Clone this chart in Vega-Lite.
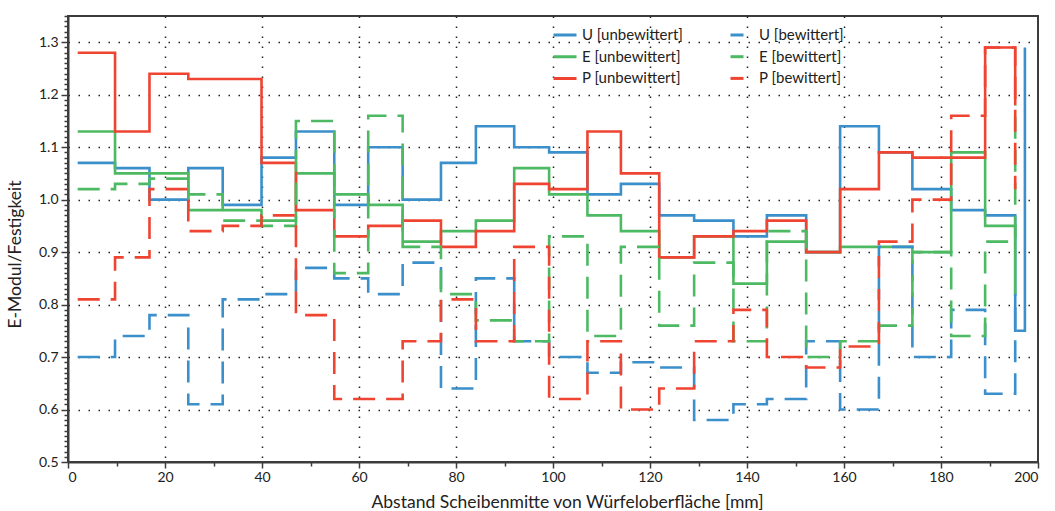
{
  "$schema": "https://vega.github.io/schema/vega-lite/v6.json",
  "width": 970,
  "height": 446,
  "autosize": "none",
  "padding": {"left": 68, "top": 16, "right": 17, "bottom": 49},
  "background": "white",
  "config": {"view": {"stroke": "#3c3c3c", "strokeWidth": 2}, "font": "Lato"},
  "data": {"values": [
    {"s":"U [unbewittert]","x":2.0,"y":1.07},{"s":"U [unbewittert]","x":9.7,"y":1.06},{"s":"U [unbewittert]","x":16.8,"y":1.00},{"s":"U [unbewittert]","x":24.8,"y":1.06},{"s":"U [unbewittert]","x":31.9,"y":0.99},{"s":"U [unbewittert]","x":39.9,"y":1.08},{"s":"U [unbewittert]","x":47.0,"y":1.13},{"s":"U [unbewittert]","x":54.9,"y":0.99},{"s":"U [unbewittert]","x":61.9,"y":1.10},{"s":"U [unbewittert]","x":69.0,"y":1.00},{"s":"U [unbewittert]","x":76.9,"y":1.07},{"s":"U [unbewittert]","x":84.1,"y":1.14},{"s":"U [unbewittert]","x":92.0,"y":1.10},{"s":"U [unbewittert]","x":99.2,"y":1.09},{"s":"U [unbewittert]","x":107.1,"y":1.01},{"s":"U [unbewittert]","x":114.0,"y":1.03},{"s":"U [unbewittert]","x":121.9,"y":0.97},{"s":"U [unbewittert]","x":129.1,"y":0.96},{"s":"U [unbewittert]","x":137.2,"y":0.93},{"s":"U [unbewittert]","x":144.1,"y":0.97},{"s":"U [unbewittert]","x":152.2,"y":0.90},{"s":"U [unbewittert]","x":159.2,"y":1.14},{"s":"U [unbewittert]","x":167.2,"y":1.09},{"s":"U [unbewittert]","x":174.1,"y":1.02},{"s":"U [unbewittert]","x":182.1,"y":0.98},{"s":"U [unbewittert]","x":189.1,"y":0.97},{"s":"U [unbewittert]","x":195.3,"y":0.75},{"s":"U [unbewittert]","x":197.3,"y":1.29},
    {"s":"E [unbewittert]","x":2.0,"y":1.13},{"s":"E [unbewittert]","x":9.7,"y":1.05},{"s":"E [unbewittert]","x":16.8,"y":1.05},{"s":"E [unbewittert]","x":24.8,"y":0.98},{"s":"E [unbewittert]","x":31.9,"y":0.98},{"s":"E [unbewittert]","x":39.9,"y":0.96},{"s":"E [unbewittert]","x":47.0,"y":1.05},{"s":"E [unbewittert]","x":54.9,"y":1.01},{"s":"E [unbewittert]","x":61.9,"y":0.99},{"s":"E [unbewittert]","x":69.0,"y":0.92},{"s":"E [unbewittert]","x":76.9,"y":0.94},{"s":"E [unbewittert]","x":84.1,"y":0.96},{"s":"E [unbewittert]","x":92.0,"y":1.06},{"s":"E [unbewittert]","x":99.2,"y":1.01},{"s":"E [unbewittert]","x":107.1,"y":0.97},{"s":"E [unbewittert]","x":114.0,"y":0.94},{"s":"E [unbewittert]","x":121.9,"y":0.89},{"s":"E [unbewittert]","x":129.1,"y":0.93},{"s":"E [unbewittert]","x":137.2,"y":0.84},{"s":"E [unbewittert]","x":144.1,"y":0.92},{"s":"E [unbewittert]","x":152.2,"y":0.90},{"s":"E [unbewittert]","x":159.2,"y":0.91},{"s":"E [unbewittert]","x":167.2,"y":0.91},{"s":"E [unbewittert]","x":174.1,"y":0.90},{"s":"E [unbewittert]","x":182.1,"y":1.09},{"s":"E [unbewittert]","x":189.1,"y":0.95},{"s":"E [unbewittert]","x":195.3,"y":0.82},
    {"s":"P [unbewittert]","x":2.0,"y":1.28},{"s":"P [unbewittert]","x":9.7,"y":1.13},{"s":"P [unbewittert]","x":16.8,"y":1.24},{"s":"P [unbewittert]","x":24.8,"y":1.23},{"s":"P [unbewittert]","x":31.9,"y":1.23},{"s":"P [unbewittert]","x":39.9,"y":1.07},{"s":"P [unbewittert]","x":47.0,"y":0.98},{"s":"P [unbewittert]","x":54.9,"y":0.93},{"s":"P [unbewittert]","x":61.9,"y":0.95},{"s":"P [unbewittert]","x":69.0,"y":0.96},{"s":"P [unbewittert]","x":76.9,"y":0.91},{"s":"P [unbewittert]","x":84.1,"y":0.94},{"s":"P [unbewittert]","x":92.0,"y":1.03},{"s":"P [unbewittert]","x":99.2,"y":1.02},{"s":"P [unbewittert]","x":107.1,"y":1.13},{"s":"P [unbewittert]","x":114.0,"y":1.05},{"s":"P [unbewittert]","x":121.9,"y":0.89},{"s":"P [unbewittert]","x":129.1,"y":0.93},{"s":"P [unbewittert]","x":137.2,"y":0.94},{"s":"P [unbewittert]","x":144.1,"y":0.96},{"s":"P [unbewittert]","x":152.2,"y":0.90},{"s":"P [unbewittert]","x":159.2,"y":1.02},{"s":"P [unbewittert]","x":167.2,"y":1.09},{"s":"P [unbewittert]","x":174.1,"y":1.08},{"s":"P [unbewittert]","x":182.1,"y":1.08},{"s":"P [unbewittert]","x":189.1,"y":1.29},{"s":"P [unbewittert]","x":195.3,"y":1.18},
    {"s":"U [bewittert]","x":2.0,"y":0.70},{"s":"U [bewittert]","x":9.7,"y":0.74},{"s":"U [bewittert]","x":16.8,"y":0.78},{"s":"U [bewittert]","x":24.8,"y":0.61},{"s":"U [bewittert]","x":31.9,"y":0.81},{"s":"U [bewittert]","x":39.9,"y":0.82},{"s":"U [bewittert]","x":47.0,"y":0.87},{"s":"U [bewittert]","x":54.9,"y":0.85},{"s":"U [bewittert]","x":61.9,"y":0.82},{"s":"U [bewittert]","x":69.0,"y":0.88},{"s":"U [bewittert]","x":76.9,"y":0.64},{"s":"U [bewittert]","x":84.1,"y":0.85},{"s":"U [bewittert]","x":92.0,"y":0.73},{"s":"U [bewittert]","x":99.2,"y":0.70},{"s":"U [bewittert]","x":107.1,"y":0.67},{"s":"U [bewittert]","x":114.0,"y":0.69},{"s":"U [bewittert]","x":121.9,"y":0.68},{"s":"U [bewittert]","x":129.1,"y":0.58},{"s":"U [bewittert]","x":137.2,"y":0.61},{"s":"U [bewittert]","x":144.1,"y":0.62},{"s":"U [bewittert]","x":152.2,"y":0.73},{"s":"U [bewittert]","x":159.2,"y":0.60},{"s":"U [bewittert]","x":167.2,"y":0.91},{"s":"U [bewittert]","x":174.1,"y":0.70},{"s":"U [bewittert]","x":182.1,"y":0.79},{"s":"U [bewittert]","x":189.1,"y":0.63},{"s":"U [bewittert]","x":195.3,"y":0.82},
    {"s":"E [bewittert]","x":2.0,"y":1.02},{"s":"E [bewittert]","x":9.7,"y":1.03},{"s":"E [bewittert]","x":16.8,"y":1.04},{"s":"E [bewittert]","x":24.8,"y":1.01},{"s":"E [bewittert]","x":31.9,"y":0.96},{"s":"E [bewittert]","x":39.9,"y":0.95},{"s":"E [bewittert]","x":47.0,"y":1.15},{"s":"E [bewittert]","x":54.9,"y":0.86},{"s":"E [bewittert]","x":61.9,"y":1.16},{"s":"E [bewittert]","x":69.0,"y":0.91},{"s":"E [bewittert]","x":76.9,"y":0.82},{"s":"E [bewittert]","x":84.1,"y":0.77},{"s":"E [bewittert]","x":92.0,"y":0.73},{"s":"E [bewittert]","x":99.2,"y":0.93},{"s":"E [bewittert]","x":107.1,"y":0.74},{"s":"E [bewittert]","x":114.0,"y":0.91},{"s":"E [bewittert]","x":121.9,"y":0.76},{"s":"E [bewittert]","x":129.1,"y":0.88},{"s":"E [bewittert]","x":137.2,"y":0.73},{"s":"E [bewittert]","x":144.1,"y":0.94},{"s":"E [bewittert]","x":152.2,"y":0.70},{"s":"E [bewittert]","x":159.2,"y":0.73},{"s":"E [bewittert]","x":167.2,"y":0.76},{"s":"E [bewittert]","x":174.1,"y":0.90},{"s":"E [bewittert]","x":182.1,"y":0.74},{"s":"E [bewittert]","x":189.1,"y":0.92},{"s":"E [bewittert]","x":195.3,"y":1.18},
    {"s":"P [bewittert]","x":2.0,"y":0.81},{"s":"P [bewittert]","x":9.7,"y":0.89},{"s":"P [bewittert]","x":16.8,"y":1.02},{"s":"P [bewittert]","x":24.8,"y":0.94},{"s":"P [bewittert]","x":31.9,"y":0.95},{"s":"P [bewittert]","x":39.9,"y":0.97},{"s":"P [bewittert]","x":47.0,"y":0.78},{"s":"P [bewittert]","x":54.9,"y":0.62},{"s":"P [bewittert]","x":61.9,"y":0.62},{"s":"P [bewittert]","x":69.0,"y":0.73},{"s":"P [bewittert]","x":76.9,"y":0.81},{"s":"P [bewittert]","x":84.1,"y":0.73},{"s":"P [bewittert]","x":92.0,"y":0.91},{"s":"P [bewittert]","x":99.2,"y":0.62},{"s":"P [bewittert]","x":107.1,"y":0.73},{"s":"P [bewittert]","x":114.0,"y":0.60},{"s":"P [bewittert]","x":121.9,"y":0.64},{"s":"P [bewittert]","x":129.1,"y":0.73},{"s":"P [bewittert]","x":137.2,"y":0.79},{"s":"P [bewittert]","x":144.1,"y":0.70},{"s":"P [bewittert]","x":152.2,"y":0.68},{"s":"P [bewittert]","x":159.2,"y":0.72},{"s":"P [bewittert]","x":167.2,"y":0.92},{"s":"P [bewittert]","x":174.1,"y":1.00},{"s":"P [bewittert]","x":182.1,"y":1.16},{"s":"P [bewittert]","x":189.1,"y":1.29},{"s":"P [bewittert]","x":195.3,"y":1.02}
  ]},
  "mark": {"type": "line", "interpolate": "step-after", "strokeWidth": 2.6},
  "encoding": {
    "x": {
      "field": "x", "type": "quantitative",
      "scale": {"domain": [0, 200], "nice": false, "zero": false},
      "axis": {
        "values": [0,10,20,30,40,50,60,70,80,90,100,110,120,130,140,150,160,170,180,190,200],
        "labelExpr": "datum.value % 20 === 0 ? datum.label : ''",
        "labelOverlap": false,
        "tickSize": {"condition": {"test": "datum.value % 20 === 0", "value": 6}, "value": 4},
        "tickColor": "#3c3c3c", "tickWidth": 1.5,
        "grid": true,
        "gridOpacity": {"condition": {"test": "datum.value % 20 === 0 && datum.value > 0 && datum.value < 200", "value": 1}, "value": 0},
        "gridDash": [1.5, 8.5], "gridColor": "#222222", "gridWidth": 1.5,
        "domainColor": "#3c3c3c", "domainWidth": 2,
        "labelFont": "Lato", "labelFontSize": 14, "labelColor": "#222222", "labelPadding": 2,
        "title": "Abstand Scheibenmitte von Würfeloberfläche [mm]",
        "titleFont": "Lato", "titleFontSize": 17.5, "titleFontWeight": "normal", "titleColor": "#222222",
        "titleX": 499, "titleY": 45, "titleAlign": "center", "titleBaseline": "alphabetic"
      }
    },
    "y": {
      "field": "y", "type": "quantitative",
      "scale": {"domain": [0.5, 1.35], "nice": false, "zero": false},
      "axis": {
        "values": [0.5,0.51,0.52,0.53,0.54,0.55,0.56,0.57,0.58,0.59,0.6,0.61,0.62,0.63,0.64,0.65,0.66,0.67,0.68,0.69,0.7,0.71,0.72,0.73,0.74,0.75,0.76,0.77,0.78,0.79,0.8,0.81,0.82,0.83,0.84,0.85,0.86,0.87,0.88,0.89,0.9,0.91,0.92,0.93,0.94,0.95,0.96,0.97,0.98,0.99,1.0,1.01,1.02,1.03,1.04,1.05,1.06,1.07,1.08,1.09,1.1,1.11,1.12,1.13,1.14,1.15,1.16,1.17,1.18,1.19,1.2,1.21,1.22,1.23,1.24,1.25,1.26,1.27,1.28,1.29,1.3,1.31,1.32,1.33,1.34,1.35],
        "labelExpr": "abs(datum.value*10 - round(datum.value*10)) < 0.001 && datum.value < 1.31 ? format(datum.value, '.1f') : ''",
        "labelOverlap": false,
        "tickSize": {"condition": {"test": "abs(datum.value*10 - round(datum.value*10)) < 0.001", "value": 7}, "value": 4},
        "tickColor": "#3c3c3c", "tickWidth": 1.5,
        "grid": true,
        "gridOpacity": {"condition": {"test": "abs(datum.value*10 - round(datum.value*10)) < 0.001 && datum.value > 0.55 && datum.value < 1.31", "value": 1}, "value": 0},
        "gridDash": [1.5, 8.5], "gridColor": "#222222", "gridWidth": 1.5,
        "domainColor": "#3c3c3c", "domainWidth": 2,
        "labelFont": "Lato", "labelFontSize": 14, "labelColor": "#222222", "labelPadding": 3,
        "title": "E-Modul/Festigkeit",
        "titleFont": "Lato", "titleFontSize": 17.5, "titleFontWeight": "normal", "titleColor": "#222222",
        "titleX": -53, "titleY": 238, "titleAngle": 270, "titleAlign": "center", "titleBaseline": "middle"
      }
    },
    "color": {
      "field": "s", "type": "nominal",
      "scale": {
        "domain": ["U [unbewittert]", "E [unbewittert]", "P [unbewittert]", "U [bewittert]", "E [bewittert]", "P [bewittert]"],
        "range": ["#3b8fca", "#4db963", "#ef4432", "#3b8fca", "#4db963", "#ef4432"]
      },
      "legend": {
        "orient": "none", "legendX": 484, "legendY": 6, "columns": 2, "title": null, "padding": 0,
        "labelFont": "Lato", "labelFontSize": 15, "labelColor": "#222222", "labelOffset": 4,
        "symbolType": "stroke", "symbolSize": 529, "symbolStrokeWidth": 3, "symbolDashOffset": 9,
        "columnPadding": 41, "rowPadding": 0.7
      }
    },
    "strokeDash": {
      "field": "s", "type": "nominal",
      "scale": {
        "domain": ["U [unbewittert]", "E [unbewittert]", "P [unbewittert]", "U [bewittert]", "E [bewittert]", "P [bewittert]"],
        "range": [[1, 0], [1, 0], [1, 0], [22, 11], [22, 11], [22, 11]]
      },
      "legend": {
        "orient": "none", "legendX": 484, "legendY": 6, "columns": 2, "title": null, "padding": 0,
        "labelFont": "Lato", "labelFontSize": 15, "labelColor": "#222222", "labelOffset": 4,
        "symbolType": "stroke", "symbolSize": 529, "symbolStrokeWidth": 3, "symbolDashOffset": 9,
        "columnPadding": 41, "rowPadding": 0.7
      }
    }
  }
}
